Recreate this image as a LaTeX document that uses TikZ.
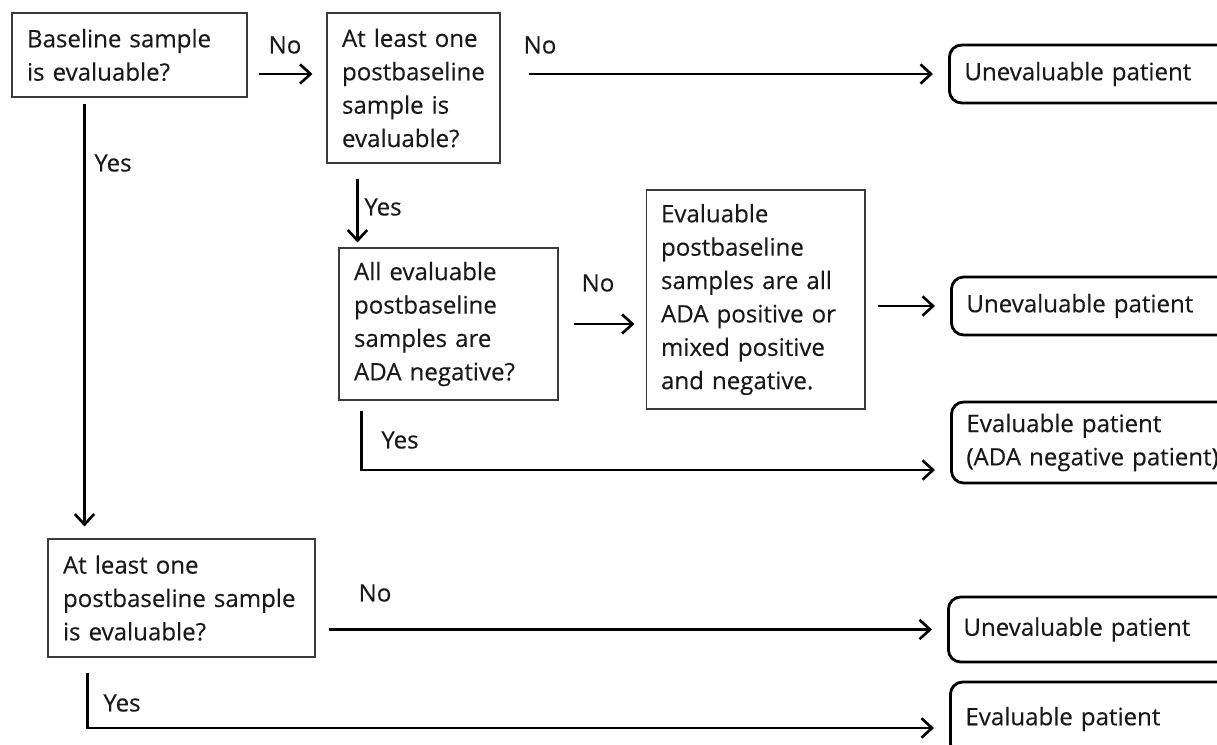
\documentclass[tikz,border=0pt]{standalone}
\usepackage{fontspec}
\setmainfont[WordSpace=2, FakeBold=0.3]{Open Sans}
\usetikzlibrary{arrows.meta, positioning, calc}
\definecolor{mydark}{RGB}{25,25,25}
\definecolor{myframe}{RGB}{60,60,60}
\newcommand{\boxfont}{\fontsize{13.7}{19}\selectfont}
\tikzset{
  qbox/.style={rectangle, draw=myframe, line width=0.6pt, align=left,
    inner xsep=0.3cm, inner ysep=0pt, font=\boxfont, text=mydark},
  endbox/.style={rectangle, draw=black, line width=1.6pt, rounded corners=7pt,
    anchor=west, align=left, text width=5.6cm, inner xsep=0.3cm,
    font=\boxfont, text=mydark},
  lbl/.style={font=\boxfont, text=mydark, inner sep=0pt},
  arrow/.style={-{Straight Barb[length=6pt,width=11pt,line width=1.5pt]}, line width=1.5pt, color=black}
}

\begin{document}
\begin{tikzpicture}[x=0.02cm, y=-0.02cm]
  \useasboundingbox (0,0) rectangle (1217,744);
  \clip (0,0) rectangle (1217,744);

  % decision boxes
  \node[qbox, text width=4.1cm, minimum height=1.68cm] (b1) at (129.5,55) {Baseline sample\\is evaluable?};
  \node[qbox, text width=2.86cm, minimum height=3.0cm] (b2) at (413.5,88) {At least one\\postbaseline\\sample is\\evaluable?};
  \node[qbox, text width=3.78cm, minimum height=3.04cm] (b3) at (448.5,324) {All evaluable\\postbaseline\\samples are\\ADA negative?};
  \node[qbox, text width=3.78cm, minimum height=4.38cm] (b4) at (755.5,299.5) {Evaluable\\postbaseline\\samples are all\\ADA positive or\\mixed positive\\and negative.};
  \node[qbox, text width=4.74cm, minimum height=2.36cm] (b5) at (181.5,598) {At least one\\postbaseline sample\\is evaluable?};

  % outcomes
  \node[endbox, minimum height=1.16cm] (r1) at (948,74) {Unevaluable patient};
  \node[endbox, minimum height=1.16cm] (r2) at (950,306) {Unevaluable patient};
  \node[endbox, minimum height=1.62cm] (r3) at (950,442.5) {Evaluable patient\\(ADA negative patient)};
  \node[endbox, minimum height=1.3cm] (r4) at (947,629.5) {Unevaluable patient};
  \node[endbox, minimum height=1.48cm] (r5) at (949,719) {Evaluable patient};

  \coordinate (d1) at ([xshift=1.46cm]b1.south west);
  \coordinate (d2) at ([xshift=0.62cm]b2.south west);
  \coordinate (d3) at ([xshift=0.46cm]b3.south west);
  \coordinate (d5) at ([xshift=0.8cm]b5.south west);

  % connectors
  \draw[arrow, shorten <=0.22cm, shorten >=0.28cm] (b1.east |- r1.west) -- (b2.west |- r1.west);
  \draw[arrow, shorten <=0.56cm, shorten >=0.3cm] (b2.east |- r1.west) -- (r1.west);
  \draw[arrow, shorten <=0.12cm, shorten >=0.24cm] (d1) -- (d1 |- b5.north);
  \draw[arrow, shorten <=0.3cm, shorten >=0.1cm] (d2) -- (d2 |- b3.north);
  \draw[arrow, shorten <=0.3cm, shorten >=0.22cm] (b3.east) -- (b3.east -| b4.west);
  \draw[arrow, shorten <=0.24cm, shorten >=0.3cm] (b4.east |- r2.west) -- (r2.west);
  \draw[arrow, shorten <=0.2cm, shorten >=0.3cm] (d3) |- ([yshift=-0.55cm]r3.west);
  \draw[arrow, shorten <=0.26cm, shorten >=0.3cm] (b5.east |- r4.west) -- (r4.west);
  \draw[arrow, shorten <=0.3cm, shorten >=0.3cm] (d5) |- ([yshift=-0.18cm]r5.west);

  % labels
  \node[lbl] (no1) at (285,45) {No};
  \node[lbl] (no2) at (540,45) {No};
  \node[lbl] (yes1) at (113,163) {Yes};
  \node[lbl] (yes2) at (383,207) {Yes};
  \node[lbl] (no3) at (598,283) {No};
  \node[lbl] (yes3) at (400,440) {Yes};
  \node[lbl] (no4) at (375,593) {No};
  \node[lbl] (yes5) at (122,703) {Yes};
\end{tikzpicture}
\end{document}
